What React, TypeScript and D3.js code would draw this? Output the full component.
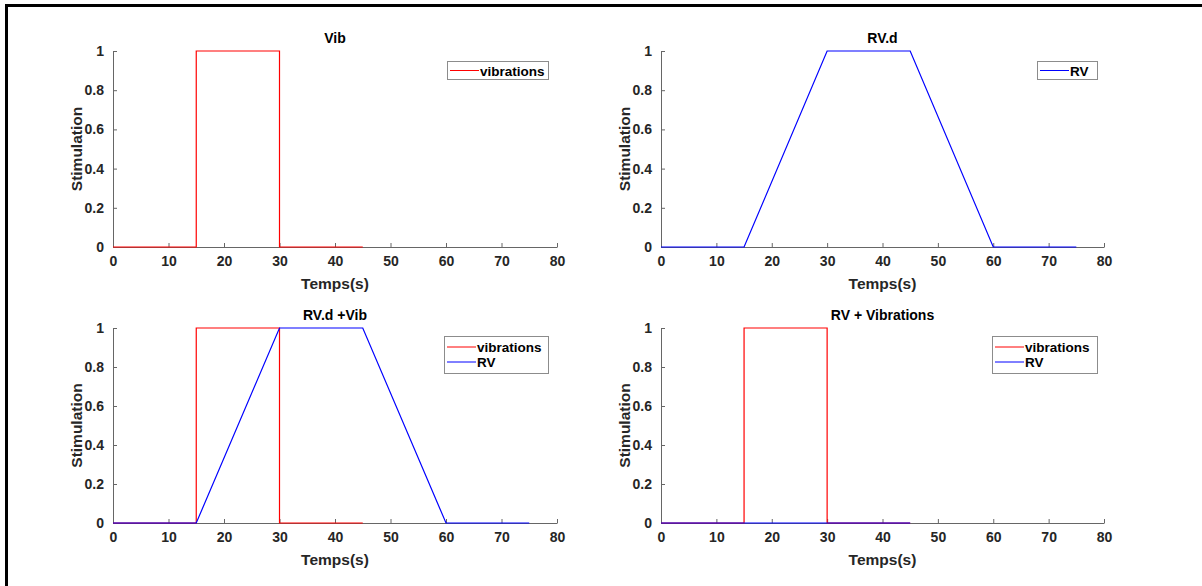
import React, { useEffect, useRef } from "react";
import * as d3 from "d3";

const xTicks = [0, 10, 20, 30, 40, 50, 60, 70, 80];
const yTicks = [0, 0.2, 0.4, 0.6, 0.8, 1];

// vibrations: square pulse
const vibT = [0, 15, 15, 30, 30, 45];
const vibV = [0, 0, 1, 1, 0, 0];
// RV.d: trapezoid
const rvdT = [0, 15, 30, 45, 60, 75];
const rvdV = [0, 0, 1, 1, 0, 0];
// RV (flat) in last panel
const rvT = [0, 45];
const rvV = [0, 0];

const titles = ["Vib", "RV.d", "RV.d +Vib", "RV + Vibrations"];

type Series = { name: string; t: number[]; v: number[]; color: string };

const panels: { title: string; series: Series[] }[] = [
  { title: titles[0], series: [{ name: "vibrations", t: vibT, v: vibV, color: "#ff0000" }] },
  { title: titles[1], series: [{ name: "RV", t: rvdT, v: rvdV, color: "#0000ff" }] },
  {
    title: titles[2],
    series: [
      { name: "vibrations", t: vibT, v: vibV, color: "#ff0000" },
      { name: "RV", t: rvdT, v: rvdV, color: "#0000ff" },
    ],
  },
  {
    title: titles[3],
    series: [
      { name: "vibrations", t: vibT, v: vibV, color: "#ff0000" },
      { name: "RV", t: rvT, v: rvV, color: "#0000ff" },
    ],
  },
];

// axes boxes and legend positions
const boxes = [
  { x0: 113, x1: 557, y0: 51, y1: 247, lx: 447, lw: 101, ly: 61 },
  { x0: 661, x1: 1104, y0: 51, y1: 247, lx: 1037, lw: 60, ly: 61 },
  { x0: 113, x1: 557, y0: 328, y1: 523, lx: 444, lw: 104, ly: 336 },
  { x0: 661, x1: 1104, y0: 328, y1: 523, lx: 992, lw: 105, ly: 336 },
];

const font = "'Liberation Sans', Arial, sans-serif";
const axisCol = "#666";
const textCol = "#262626";

function App() {
  const ref = useRef<SVGSVGElement>(null);

  useEffect(() => {
    const svg = d3.select(ref.current);
    svg.selectAll("*").remove();

    svg.append("rect").attr("width", 1202).attr("height", 586).attr("fill", "#fff");
    // frame on top and left
    svg.append("rect").attr("x", 5).attr("y", 4).attr("width", 1197).attr("height", 3).attr("fill", "#000");
    svg.append("rect").attr("x", 5).attr("y", 4).attr("width", 3).attr("height", 582).attr("fill", "#000");

    panels.forEach((p, i) => {
      const b = boxes[i];
      const x = d3.scaleLinear().domain([0, 80]).range([b.x0, b.x1]);
      const y = d3.scaleLinear().domain([0, 1]).range([b.y1, b.y0]);
      const g = svg.append("g").attr("font-family", font);

      const xa = g
        .append("g")
        .attr("transform", `translate(0,${b.y1})`)
        .call(d3.axisBottom(x).tickValues(xTicks).tickSizeInner(-4).tickSizeOuter(0).tickPadding(9));
      const ya = g
        .append("g")
        .attr("transform", `translate(${b.x0},0)`)
        .call(
          d3
            .axisLeft(y)
            .tickValues(yTicks)
            .tickSizeInner(-4)
            .tickSizeOuter(0)
            .tickPadding(9)
            .tickFormat((d) => String(+d))
        );
      [xa, ya].forEach((a) => {
        a.select(".domain").attr("stroke", axisCol);
        a.selectAll(".tick line").attr("stroke", axisCol);
        a.selectAll(".tick text")
          .attr("fill", textCol)
          .attr("font-size", 14)
          .attr("font-weight", "bold")
          .attr("font-family", font);
      });

      p.series.forEach((s) => {
        const pts = s.t.map((t, k) => [x(t), y(s.v[k])] as [number, number]);
        g.append("path")
          .attr("d", d3.line()(pts))
          .attr("fill", "none")
          .attr("stroke", s.color)
          .attr("stroke-width", 1.2);
      });

      const cx = (b.x0 + b.x1) / 2;
      g.append("text")
        .attr("x", cx)
        .attr("y", b.y0 - 8)
        .attr("text-anchor", "middle")
        .attr("font-size", 14)
        .attr("font-weight", "bold")
        .attr("fill", "#000")
        .text(p.title);
      g.append("text")
        .attr("x", cx)
        .attr("y", b.y1 + 42)
        .attr("text-anchor", "middle")
        .attr("font-size", 15.5)
        .attr("font-weight", "bold")
        .attr("fill", textCol)
        .text("Temps(s)");
      g.append("text")
        .attr("transform", `translate(${b.x0 - 31},${(b.y0 + b.y1) / 2}) rotate(-90)`)
        .attr("text-anchor", "middle")
        .attr("font-size", 15.5)
        .attr("font-weight", "bold")
        .attr("fill", textCol)
        .text("Stimulation");

      // legend
      const n = p.series.length;
      const lh = n === 1 ? 18 : 37;
      const lg = g.append("g").attr("transform", `translate(${b.lx},${b.ly})`);
      lg.append("rect")
        .attr("x", 0.5)
        .attr("y", 0.5)
        .attr("width", b.lw)
        .attr("height", lh)
        .attr("fill", "#fff")
        .attr("stroke", "#8c8c8c");
      p.series.forEach((s, k) => {
        const yy = (n === 1 ? 9.5 : 11) + k * 15;
        lg.append("line")
          .attr("x1", 3)
          .attr("x2", 32)
          .attr("y1", yy)
          .attr("y2", yy)
          .attr("stroke", s.color)
          .attr("stroke-width", 1);
        lg.append("text")
          .attr("x", 33)
          .attr("y", yy + 5)
          .attr("font-size", 13.5)
          .attr("font-weight", "bold")
          .attr("fill", "#000")
          .text(s.name);
      });
    });
  }, []);

  return (
    <svg
      ref={ref}
      width={1202}
      height={586}
      style={{ position: "absolute", left: 0, top: 0 }}
    />
  );
}

export default App;
